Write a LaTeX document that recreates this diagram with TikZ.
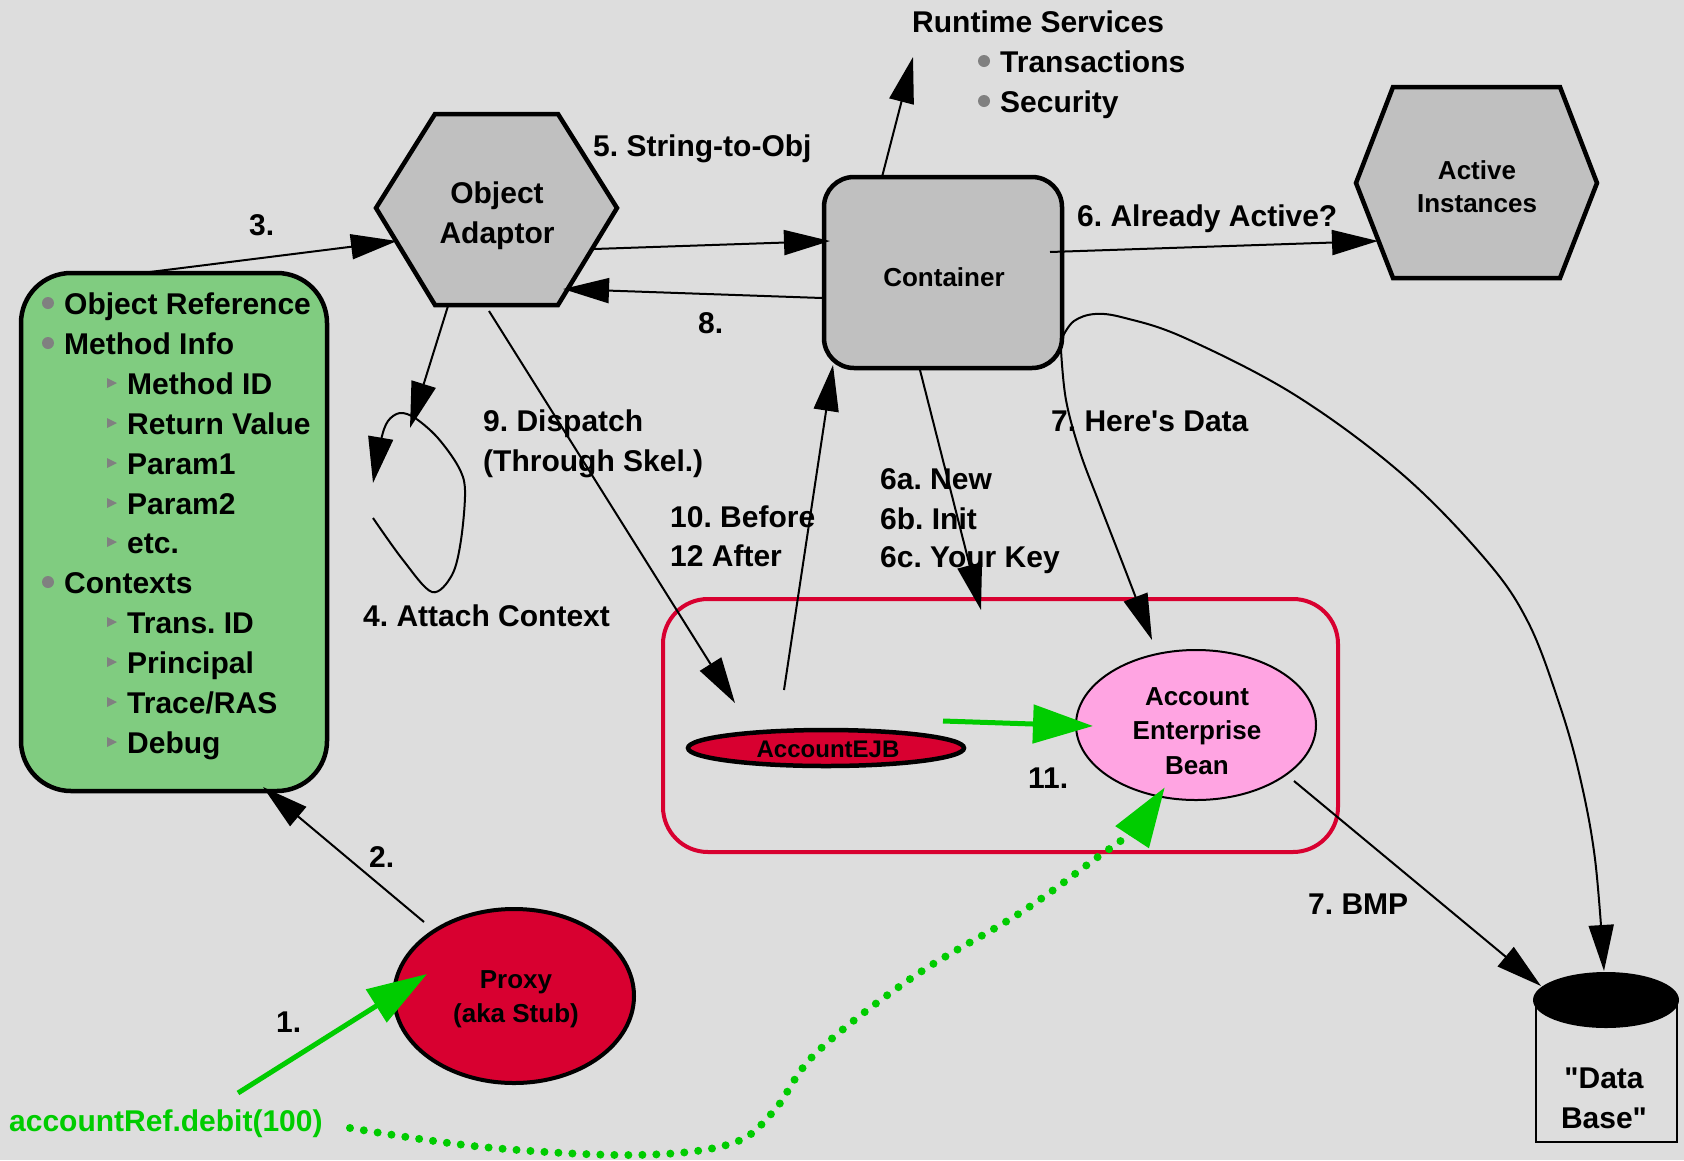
\documentclass[tikz,border=0pt]{standalone}
\usepackage{fontspec}
\setmainfont{Liberation Sans}
\usetikzlibrary{arrows.meta,shapes.geometric}
\definecolor{bgc}{RGB}{221,221,221}
\definecolor{shapegrey}{RGB}{192,192,192}
\definecolor{boxgreen}{RGB}{128,204,128}
\definecolor{ejbred}{RGB}{216,0,48}
\definecolor{beanpink}{RGB}{255,164,226}
\definecolor{arrowgreen}{RGB}{0,204,0}
\definecolor{bulletgrey}{RGB}{128,128,128}
\frenchspacing
\begin{document}
\begin{tikzpicture}[x=1pt,y=-1pt,
  lblA/.style={anchor=base west, inner sep=0pt, font=\fontsize{30}{36}\selectfont\bfseries\frenchspacing},
  ctrA/.style={anchor=base, inner sep=0pt, font=\fontsize{30}{36}\selectfont\bfseries},
  ctrB/.style={anchor=base, inner sep=0pt, font=\fontsize{26}{30}\selectfont\bfseries},
  ctrC/.style={anchor=base, inner sep=0pt, font=\fontsize{24}{28}\selectfont\bfseries},
  conn/.style={line width=2pt, -{Triangle[length=46pt,width=25pt]}},
  gconn/.style={draw=arrowgreen, line width=5pt, -{Triangle[length=60pt,width=38pt]}},
  shapeline/.style={line width=4.5pt, line join=miter},
  bul/.style={fill=bulletgrey},
]
\fill[bgc] (0,0) rectangle (1684,1160);
\path[use as bounding box] (0,0) rectangle (1684,1160);

% ---------- shapes ----------
\node[draw, line width=4.5pt, fill=boxgreen, rounded corners=50pt,
      minimum width=306pt, minimum height=518pt, inner sep=0pt] (info) at (174,532) {};
\draw[shapeline, fill=shapegrey] (376,208) -- (435,114) -- (558,114) -- (617,208) -- (558,305) -- (435,305) -- cycle;
\node[inner sep=0pt] (oa) at (497,210) {};
\draw[shapeline, fill=shapegrey] (1356,183) -- (1393,87) -- (1560,87) -- (1597,183) -- (1560,278) -- (1393,278) -- cycle;
\node[inner sep=0pt] (act) at (1477,183) {};
\node[draw, line width=4.5pt, fill=shapegrey, rounded corners=30pt,
      minimum width=238pt, minimum height=191pt, inner sep=0pt] (cont) at (943,272.5) {};
\node[draw=ejbred, line width=4pt, rounded corners=45pt,
      minimum width=675pt, minimum height=253pt, inner sep=0pt] (grp) at (1000.5,725.5) {};
\node[ellipse, draw, line width=4pt, fill=ejbred, minimum width=240pt, minimum height=174pt, inner sep=0pt] (proxy) at (514,996) {};
\node[ellipse, draw, line width=4.5pt, fill=ejbred, minimum width=276pt, minimum height=36pt, inner sep=0pt] (ejb) at (826,748) {};
\node[ellipse, draw, line width=2pt, fill=beanpink, minimum width=240pt, minimum height=150pt, inner sep=0pt] (aeb) at (1196,725) {};
\draw[line width=2.5pt] (1536,1000) -- (1536,1142) -- (1677,1142) -- (1677,1000);
\node[ellipse, fill=black, minimum width=146pt, minimum height=56pt, inner sep=0pt] (db) at (1606,1000) {};

% ---------- node texts ----------
\node[ctrA] (oat1) at (497,203) {Object};
\node[ctrA] (oat2) at (497,243) {Adaptor};
\node[ctrB] (contt) at (944,286) {Container};
\node[ctrB] (actt1) at (1477,179) {Active};
\node[ctrB] (actt2) at (1477,212) {Instances};
\node[ctrB] (proxyt1) at (516,988) {Proxy};
\node[ctrB] (proxyt2) at (516,1022) {(aka Stub)};
\node[ctrC] (ejbt) at (828,757) {AccountEJB};
\node[ctrB] (aebt1) at (1197,705) {Account};
\node[ctrB] (aebt2) at (1197,739) {Enterprise};
\node[ctrB] (aebt3) at (1197,774) {Bean};
\node[ctrA] (dbt1) at (1604,1088) {\textquotedbl Data};
\node[ctrA] (dbt2) at (1604,1128) {Base\textquotedbl};

% ---------- green box list ----------
\fill[bul] (48,303) circle[radius=6pt];
\fill[bul] (48,343) circle[radius=6pt];
\fill[bul] (48,582) circle[radius=6pt];
\foreach \yy in {383,423,463,503,542,622,662,702,742}
  \fill[bul] (107,\yy-5) -- (117,\yy) -- (107,\yy+5) -- cycle;
\node[lblA] (i1) at (64,314) {Object Reference};
\node[lblA] (i2) at (64,354) {Method Info};
\node[lblA] (i3) at (127,394) {Method ID};
\node[lblA] (i4) at (127,434) {Return Value};
\node[lblA] (i5) at (127,474) {Param1};
\node[lblA] (i6) at (127,514) {Param2};
\node[lblA] (i7) at (127,553) {etc.};
\node[lblA] (i8) at (64,593) {Contexts};
\node[lblA] (i9) at (127,633) {Trans. ID};
\node[lblA] (i10) at (127,673) {Principal};
\node[lblA] (i11) at (127,713) {Trace/RAS};
\node[lblA] (i12) at (127,753) {Debug};

% ---------- runtime services ----------
\node[lblA] (rs) at (912,32) {Runtime Services};
\fill[bul] (984,61) circle[radius=6pt];
\fill[bul] (984,101) circle[radius=6pt];
\node[lblA] (rs1) at (1000,72) {Transactions};
\node[lblA] (rs2) at (1000,112) {Security};

% ---------- labels ----------
\node[lblA] (l3) at (249,235) {3.};
\node[lblA] (l5) at (593,156) {5. String-to-Obj};
\node[lblA] (l8) at (698,333) {8.};
\node[lblA] (l6) at (1077,226) {6. Already Active?};
\node[lblA] (l9a) at (483,431) {9. Dispatch};
\node[lblA] (l9b) at (483,471) {(Through Skel.)};
\node[lblA] (l4) at (363,626) {4. Attach Context};
\node[lblA] (l10) at (670,527) {10. Before};
\node[lblA] (l12) at (670,566) {12 After};
\node[lblA] (l6a) at (880,489) {6a. New};
\node[lblA] (l6b) at (880,529) {6b. Init};
\node[lblA] (l6c) at (880,567) {6c. Your Key};
\node[lblA] (l7) at (1051,431) {7. Here\textquotesingle s Data};
\node[lblA] (l11) at (1028,788) {11.};
\node[lblA] (lbmp) at (1308,914) {7. BMP};
\node[lblA] (l2) at (369,867) {2.};
\node[lblA] (l1) at (276,1032) {1.};
\node[lblA, text=arrowgreen] (call) at (9,1131) {accountRef.debit(100)};

% ---------- connector end points ----------
\coordinate (info-top) at (150,272);
\coordinate (oa-left) at (397,241);
\coordinate (oa-right) at (594,249);
\coordinate (oa-rlow) at (563,289);
\coordinate (oa-bot1) at (448,306);
\coordinate (oa-bot2) at (489,311);
\coordinate (cont-left) at (830,241);
\coordinate (cont-left2) at (822,298);
\coordinate (cont-top) at (882,177);
\coordinate (rs-end) at (913,57);
\coordinate (cont-right) at (1050,252);
\coordinate (act-left) at (1378,241);
\coordinate (cont-bot) at (920,370);
\coordinate (cont-botl) at (833,365);
\coordinate (cont-br) at (1061,350);
\coordinate (cont-r2) at (1063,336);
\coordinate (loop-a) at (410,428);
\coordinate (loop-s) at (373,518);
\coordinate (loop-e) at (373,483);
\coordinate (ejb-in) at (735,703);
\coordinate (ejb-top) at (784,690);
\coordinate (grp-top) at (981,610);
\coordinate (aeb-top) at (1152,640);
\coordinate (aeb-br) at (1294,781);
\coordinate (db-left) at (1541,986);
\coordinate (db-top) at (1604,971);
\coordinate (proxy-nw) at (424,922);
\coordinate (info-bot) at (263,787);
\coordinate (call-s) at (238,1093);
\coordinate (proxy-in) at (427,974);
\coordinate (ejb-r) at (943,721);
\coordinate (aeb-l) at (1093,726);
\coordinate (call-e) at (350,1128);
\coordinate (aeb-bot) at (1165,787);

% ---------- connectors ----------
\draw[conn] (info-top) -- (oa-left);
\draw[conn] (oa-right) -- (cont-left);
\draw[conn] (cont-left2) -- (oa-rlow);
\draw[conn] (cont-top) -- (rs-end);
\draw[conn] (cont-right) -- (act-left);
\draw[conn] (oa-bot1) -- (loop-a);
\draw[conn] plot[smooth, tension=0.55] coordinates {(loop-s) (403,560) (432,592) (452,575) (461,540) (465,490) (458,466) (437,437) (415,418) (400,413) (388,421) (381,440) (loop-e)};
\draw[conn] (oa-bot2) -- (ejb-in);
\draw[conn] (ejb-top) -- (cont-botl);
\draw[conn] (cont-bot) -- (grp-top);
\draw[conn] plot[smooth, tension=0.6] coordinates {(cont-br) (1066,400) (1080,452) (1100,505) (1126,572) (aeb-top)};
\draw[conn] plot[smooth, tension=0.6] coordinates {(cont-r2) (1074,321) (1095,314) (1125,318) (1185,338) (1295,395) (1402,474) (1486,560) (1528,622) (1558,700) (1579,773) (1595,859) (db-top)};
\draw[conn] (aeb-br) -- (db-left);
\draw[conn] (proxy-nw) -- (info-bot);
\draw[gconn] (call-s) -- (proxy-in);
\draw[gconn] (ejb-r) -- (aeb-l);
\draw[draw=arrowgreen, line width=8pt, line cap=round, dash pattern=on 0pt off 14pt,
      -{Triangle[length=60pt,width=38pt]}]
  plot[smooth, tension=0.6] coordinates {(call-e) (483,1147) (634,1155) (730,1144) (773,1112) (816,1053) (913,977) (1020,913) (1095,859) (1133,830) (aeb-bot)};
\end{tikzpicture}
\end{document}
